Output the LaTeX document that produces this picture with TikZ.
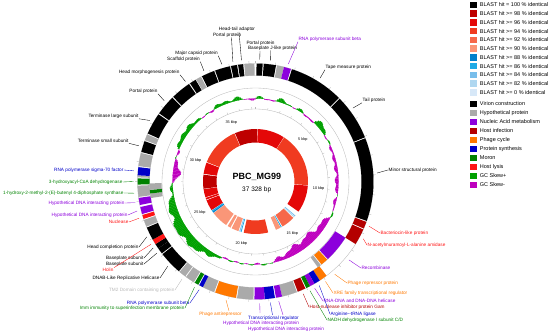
\documentclass[tikz,border=0pt]{standalone}
\usepackage{fontspec}
\setmainfont{Liberation Sans}
\usetikzlibrary{calc, positioning}

% BLAST identity shades
\definecolor{b100}{RGB}{0,0,0}
\definecolor{b98}{RGB}{190,0,0}
\definecolor{b96}{RGB}{228,8,8}
\definecolor{b94}{RGB}{240,59,32}
\definecolor{b92}{RGB}{246,104,74}
\definecolor{b90}{RGB}{250,150,120}
\definecolor{b88}{RGB}{0,128,204}
\definecolor{b86}{RGB}{30,170,230}
\definecolor{b84}{RGB}{120,190,235}
\definecolor{b82}{RGB}{175,215,240}
\definecolor{b0}{RGB}{215,232,248}
% gene categories
\definecolor{virion}{RGB}{0,0,0}
\definecolor{hypo}{RGB}{170,170,170}
\definecolor{nucl}{RGB}{140,0,220}
\definecolor{hinf}{RGB}{180,0,0}
\definecolor{pcyc}{RGB}{255,120,0}
\definecolor{psyn}{RGB}{0,0,200}
\definecolor{moron}{RGB}{0,130,0}
\definecolor{hlys}{RGB}{255,20,20}
\definecolor{gcpos}{RGB}{0,160,0}
\definecolor{gcneg}{RGB}{190,0,190}
\definecolor{tmgrey}{RGB}{185,185,185}

\tikzset{
  lbl/.style={font=\fontsize{4.7}{5}\selectfont, inner sep=0.4pt},
  leader/.style={line width=0.35pt},
  ringline/.style={draw=gray!55, line width=0.35pt},
  kbplbl/.style={font=\fontsize{3.8}{4}\selectfont, inner sep=0pt},
  legbox/.style={minimum size=6.5pt, inner sep=0pt},
  legtxt/.style={font=\fontsize{5.5}{6}\selectfont, inner sep=0pt, anchor=west},
}

\pgfmathdeclarefunction{bump}{3}{\pgfmathparse{max(0,1-((#1-#2)/#3)*((#1-#2)/#3))}}

% annular piece: r_in, r_out, from, to (degrees clockwise from top), colour
\newcommand{\cdsarc}[5]{%
  \fill[#5] ({#3-90}:#1) arc[start angle={#3-90}, end angle={#4-90}, radius=#1]
    -- ({#4-90}:#2) arc[start angle={#4-90}, end angle={#3-90}, radius=#2] -- cycle;}

% name, colour, anchor, position, text, angle, leader start
\newcommand{\genelbl}[7]{%
  \node[lbl, text=#2, anchor=#3] (#1) at (#4) {#5};
  \coordinate (#1-r) at ($(ctr)+({#6-90}:122)$);
  \draw[leader, draw=#2] (#7) -- (#1-r);}

\begin{document}
\begin{tikzpicture}[x=1pt, y=-1pt]
\useasboundingbox (0,0) rectangle (550,336);
\coordinate (ctr) at (255.5,181.5);

\begin{scope}[shift={(ctr)}]
% BLAST ring
\foreach \a/\b/\c in {337/362/b98, 2.5/32.5/b96, 33/94/b94, 94.5/125/b96,
  130.5/131.5/b84, 132/133/b82, 134/149/b92, 150/151/b86, 151.5/157/b90,
  166/193/b94, 195.5/196.5/b86, 197/198/b84, 199/207/b90, 208.5/212/b90,
  214/233/b90, 233.5/235/b88, 235/236.5/b86, 237/249/b96, 249.8/251.8/b96,
  252.5/261.5/b96, 262/277.5/b98, 278.5/291/b96, 291.8/336.3/b94}
  \cdsarc{39}{52.5}{\a}{\b}{\c};

% scale circle
\draw[ringline] (0,0) circle[radius=72.5];
\foreach \k in {0,...,37}
  \draw[ringline] ({\k*9.6443-90}:72.5) -- ({\k*9.6443-90}:74.5);
\foreach \k in {5,10,...,35}
  \node[kbplbl] (kbp\k) at ({\k*9.6443-90}:63.5) {\k\ kbp};

% GC skew
\foreach \gt in {0,...,359}{
  \pgfmathsetmacro\gcv{9*bump(\gt,235,32) - 8*bump(\gt,140,28) - 6*bump(\gt,277,9)
    + 4*bump(\gt,305,14) + 5*bump(\gt,50,6) - 2.5*bump(\gt,85,25)
    + 2.5*bump(\gt,340,12) + 1.5*bump(\gt,20,12)
    + 1.8*sin(37*\gt)*cos(11*\gt) + 0.8*sin(23*\gt+40)}
  \pgfmathsetmacro\gcr{83+\gcv}
  \ifdim\gcv pt>0pt \def\gcc{gcpos}\else\def\gcc{gcneg}\fi
  \filldraw[\gcc, line width=0.1pt] ({\gt-90}:83) -- ({\gt-90}:\gcr)
    -- ({\gt-89}:\gcr) -- ({\gt-89}:83) -- cycle;
}

% CDS rings
\draw[ringline] (0,0) circle[radius=93.5];
\draw[ringline] (0,0) circle[radius=106];
\draw[ringline] (0,0) circle[radius=118];
\foreach \k in {0,...,37}
  \draw[ringline] ({\k*9.6443-90}:118) -- ({\k*9.6443-90}:120.5);

% forward strand
\foreach \a/\b/\c in {0.5/3.5/virion, 4/10/virion, 10.5/14/hypo, 14/17.5/nucl,
  18/45/virion, 45.5/68/virion, 68.5/109.5/virion, 110/113.5/hinf, 114/122/hinf,
  143/147/pcyc, 147/150/psyn, 150/152.5/nucl, 152.5/154.5/moron, 155/159/hinf,
  159.5/167/hypo, 167/170/nucl, 170.5/175.5/psyn, 175.5/180.5/nucl,
  181/189/hypo, 189.5/200/pcyc, 200.5/206.5/hypo, 206.5/208.5/psyn,
  209/211/moron, 211.5/216/hypo, 216.5/220/hypo, 220.5/232/virion,
  232.5/235.5/virion, 235.5/238/virion, 238/240.5/hlys, 240.5/247/virion,
  247.5/251/hypo, 251.5/253.5/hlys, 254/257.5/nucl, 258.5/262/nucl,
  262.5/268/hypo, 268.5/271.5/moron, 272/273/hypo, 273/277/psyn,
  277.5/284/hypo, 284.5/290/virion, 290.5/293.5/hypo, 294/304.7/virion,
  305.3/315.2/virion, 315.8/325.7/virion, 326.3/329.5/virion, 329.8/332.5/hypo,
  333/339.5/virion, 340/347.5/virion, 348/351/virion, 351.5/354/virion,
  354.5/359.5/hypo}
  \cdsarc{106}{118}{\a}{\b}{\c};
% reverse strand
\foreach \a/\b/\c in {122/137/nucl, 137.5/141.5/pcyc, 142/144/hypo,
  261/263.5/hypo, 263.5/265.5/moron, 265.5/269/hypo}
  \cdsarc{94}{106}{\a}{\b}{\c};
\end{scope}

\node[font=\bfseries\fontsize{9}{10}\selectfont] (gname) at (256.8,177.3) {PBC\_MG99};
\node[font=\fontsize{6.5}{7}\selectfont] (glen) at (256.7,190) {37 328 bp};

% gene labels
\genelbl{hmorph}{black}{east}{180,72}{Head morphogenesis protein}{325}{hmorph.south east}
\genelbl{portL}{black}{east}{158,91}{Portal protein}{311.5}{portL.south east}
\genelbl{terml}{black}{east}{139,116}{Terminase large subunit}{300}{terml.south east}
\genelbl{terms}{black}{east}{129,141}{Terminase small subunit}{287}{terms.south east}
\genelbl{sigma}{psyn}{east}{124,170}{RNA polymerase sigma-70 factor}{275}{sigma.east}
\genelbl{hacd}{moron}{east}{123,182}{3-hydroxyacyl-CoA dehydrogenase}{270}{hacd.east}
\genelbl{hmbpp}{moron}{east}{124,193}{1-hydroxy-2-methyl-2-(E)-butenyl 4-diphosphate synthase}{264.5}{hmbpp.east}
\genelbl{hdna1}{nucl}{east}{125,203}{Hypothetical DNA interacting protein}{260}{hdna1.east}
\genelbl{hdna2}{nucl}{east}{128,215}{Hypothetical DNA interacting protein}{256}{hdna2.east}
\genelbl{nucle}{hlys}{east}{129,222}{Nuclease}{252.5}{nucle.east}
\genelbl{hcomp}{black}{east}{139,247}{Head completion protein}{243}{hcomp.east}
\genelbl{bps1}{black}{east}{144,258}{Baseplate subunit}{237}{bps1.east}
\genelbl{bps2}{black}{east}{144,264}{Baseplate subunit}{234}{bps2.east}
\genelbl{holin}{hlys}{east}{114,270}{Holin}{239}{holin.north east}
\genelbl{dnab}{black}{east}{160,278}{DNAB-Like Replicative Helicase}{226}{dnab.east}
\genelbl{tmd}{tmgrey}{east}{175,290}{TM2 Domain containing protein}{217}{tmd.east}
\genelbl{rpbB}{psyn}{east}{190,303}{RNA polymerase subunit beta}{207.5}{rpbB.east}
\genelbl{imm}{moron}{east}{185,308}{Imm immunity to superinfection membrane protein}{210}{imm.east}

\genelbl{pant}{pcyc}{center}{220.5,314}{Phage antirepressor}{194}{229,311}
\genelbl{treg}{psyn}{center}{273.5,318}{Transcriptional regulator}{173}{272.5,315}
\genelbl{hdna3}{nucl}{center}{261,323}{Hypothetical DNA interacting protein}{178}{260,313}
\genelbl{hdna4}{nucl}{center}{286,329}{Hypothetical DNA interacting protein}{169}{283,315}

\genelbl{tape}{black}{west}{325,67}{Tape measure protein}{32}{tape.south west}
\genelbl{tail}{black}{west}{362,100}{Tail protein}{53}{tail.south west}
\genelbl{minor}{black}{west}{388,170}{Minor structural protein}{86}{minor.west}
\genelbl{bact}{hlys}{west}{380,233}{Bacteriocin-like protein}{111.5}{bact.west}
\genelbl{amid}{hlys}{west}{367,245}{N-acetylmuramoyl-L-alanine amidase}{118}{amid.west}
\genelbl{recomb}{nucl}{west}{361,268}{Recombinase}{130}{recomb.west}
\genelbl{prep}{pcyc}{west}{347,283}{Phage repressor protein}{139.5}{prep.west}
\genelbl{xre}{pcyc}{west}{333,293}{XRE family transcriptional regulator}{145}{xre.west}
\genelbl{rdh}{nucl}{west}{323,301}{RNA-DNA and DNA-DNA helicase}{151}{rdh.west}
\genelbl{gam}{hinf}{west}{309,307}{Host-nuclease inhibitor protein Gam}{157}{gam.west}
\genelbl{arg}{psyn}{west}{330,314}{Arginine-{}-tRNA ligase}{148.5}{arg.west}
\genelbl{nadh}{moron}{west}{327,320}{NADH dehydrogenase I subunit C/D}{153.5}{nadh.west}

\genelbl{rpbT}{nucl}{west}{298,39}{RNA polymerase subunit beta}{15.6}{rpbT.south west}
\genelbl{bpj}{black}{center}{272.5,48}{Baseplate J-like protein}{7}{270.5,50.5}
\genelbl{portT}{black}{center}{260.5,43}{Portal protein}{2}{260,51}
\genelbl{hta}{black}{center}{237,29}{Head-tail adaptor}{353.4}{239,32}
\genelbl{portT2}{black}{center}{227,35}{Portal protein}{349.3}{231.5,37.5}
\genelbl{mcp}{black}{center}{196.5,53}{Major capsid protein}{344}{mcp.south east}
\genelbl{scaf}{black}{center}{183.5,59}{Scaffold protein}{335}{scaf.south east}

% legend
\foreach \lc/\lt [count=\i] in {b100/{BLAST hit = 100 \% identical},
  b98/{BLAST hit >= 98 \% identical}, b96/{BLAST hit >= 96 \% identical},
  b94/{BLAST hit >= 94 \% identical}, b92/{BLAST hit >= 92 \% identical},
  b90/{BLAST hit >= 90 \% identical}, b88/{BLAST hit >= 88 \% identical},
  b86/{BLAST hit >= 86 \% identical}, b84/{BLAST hit >= 84 \% identical},
  b82/{BLAST hit >= 82 \% identical}, b0/{BLAST hit >= 0 \% identical}}{
  \node[legbox, fill=\lc] (blast\i) at (473.5,{5+8.73*(\i-1)}) {};
  \node[legtxt, right=2.8pt of blast\i] (blasttxt\i) {\lt};
}
\foreach \lc/\lt [count=\i] in {virion/Virion construction, hypo/Hypothetical protein,
  nucl/Nucleic Acid metabolism, hinf/Host infection, pcyc/Phage cycle,
  psyn/Protein synthesis, moron/Moron, hlys/Host lysis, gcpos/GC Skew+, gcneg/GC Skew-}{
  \node[legbox, fill=\lc] (cat\i) at (473.5,{104+9*(\i-1)}) {};
  \node[legtxt, right=2.8pt of cat\i] (cattxt\i) {\lt};
}
\end{tikzpicture}
\end{document}
